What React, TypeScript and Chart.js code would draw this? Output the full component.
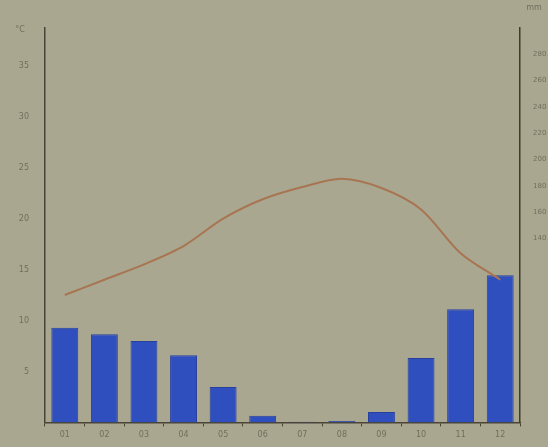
import React, { useEffect, useRef } from "react";
import { Chart, registerables } from "chart.js";

Chart.register(...registerables);

const months = ["01", "02", "03", "04", "05", "06", "07", "08", "09", "10", "11", "12"];
const precipitation = [72, 67, 62, 51, 27, 5, 0.5, 1, 8, 49, 86, 112];
const temperature = [12.5, 14.0, 15.5, 17.3, 20.0, 21.9, 23.1, 23.9, 23.0, 20.9, 16.6, 14.0];
const tempTicks = [5, 10, 15, 20, 25, 30, 35];
const rainTicks = [140, 160, 180, 200, 220, 240, 260, 280];

const unitsPlugin = {
  id: "units",
  afterDraw(chart: any) {
    const ctx = chart.ctx;
    const yl = chart.scales.y;
    const yr = chart.scales.y1;
    ctx.save();
    ctx.fillStyle = "rgba(95,90,75,0.75)";
    ctx.font = "8px 'DejaVu Sans'";
    ctx.textAlign = "center";
    ctx.textBaseline = "middle";
    ctx.fillText("°C", yl.left + 20, chart.chartArea.top + 2);
    ctx.fillText("mm", yr.left + 14, chart.chartArea.top - 20);
    ctx.restore();
  },
};

export default function App() {
  const ref = useRef<HTMLCanvasElement>(null);
  useEffect(() => {
    if (!ref.current) return;
    const chart = new Chart(ref.current, {
      type: "bar",
      data: {
        labels: months,
        datasets: [
          {
            type: "line",
            data: temperature,
            yAxisID: "y",
            borderColor: "#a87552",
            borderWidth: 2,
            pointRadius: 0,
            tension: 0.3,
            order: 0,
          } as any,
          {
            type: "bar",
            data: precipitation,
            yAxisID: "y1",
            backgroundColor: "#2f4fbf",
            borderColor: "#27409e",
            borderWidth: 1,
            barPercentage: 0.68,
            categoryPercentage: 1,
            order: 1,
          },
        ],
      },
      options: {
        animation: false,
        responsive: false,
        maintainAspectRatio: false,
        layout: { padding: { top: 28, bottom: 3, left: 0, right: 0 } },
        plugins: { legend: { display: false }, tooltip: { enabled: false } },
        scales: {
          x: {
            offset: true,
            border: { display: true, color: "#4a4536", width: 1.5 },
            grid: { display: true, drawOnChartArea: false, offset: true, tickLength: 4, color: "#4a4536" },
            ticks: { color: "rgba(95,90,75,0.75)", font: { size: 8, family: "DejaVu Sans" }, padding: 4 },
          },
          y: {
            position: "left",
            min: 0,
            max: 38.7,
            border: { display: true, color: "#4a4536", width: 1.5 },
            grid: { display: false },
            afterBuildTicks(scale: any) {
              scale.ticks = tempTicks.map((v) => ({ value: v }));
            },
            afterFit(scale: any) {
              scale.width = 45;
            },
            ticks: { color: "rgba(95,90,75,0.75)", font: { size: 8, family: "DejaVu Sans" }, padding: 8 },
          },
          y1: {
            position: "right",
            min: 0,
            max: 300,
            border: { display: true, color: "#3f3a2c", width: 1.5 },
            grid: { display: false },
            afterBuildTicks(scale: any) {
              scale.ticks = rainTicks.map((v) => ({ value: v }));
            },
            afterFit(scale: any) {
              scale.width = 28;
            },
            ticks: { color: "rgba(95,90,75,0.75)", font: { size: 7, family: "DejaVu Sans" }, padding: 5 },
          },
        },
      },
      plugins: [unitsPlugin],
    });
    return () => chart.destroy();
  }, []);
  return (
    <div style={{ position: "absolute", left: 0, top: 0, width: 548, height: 447, background: "#aaa791" }}>
      <canvas ref={ref} width={548} height={447} style={{ width: 548, height: 447 }} />
    </div>
  );
}
